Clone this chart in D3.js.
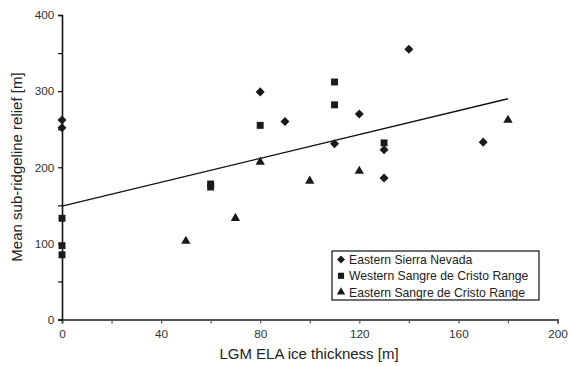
<!DOCTYPE html>
<html>
<head>
<meta charset="utf-8">
<script src="https://cdn.jsdelivr.net/npm/d3@7"></script>
<style>
  body { margin: 0; background: #fff; }
  svg { font-family: "Liberation Sans", Arial, sans-serif; }
</style>
</head>
<body>
<svg id="chart" width="568" height="366"></svg>
<script>
// data
const sierraNevada = [
  [0, 262], [0, 252], [80, 299], [90, 260], [110, 231], [120, 270],
  [130, 223], [130, 186], [140, 355], [170, 233]
];
const westernSangre = [
  [0, 133], [0, 97], [0, 85], [60, 178], [60, 174], [80, 255],
  [110, 312], [110, 282], [130, 232]
];
const easternSangre = [
  [50, 103], [70, 133], [80, 207], [100, 182], [120, 195], [180, 262]
];
const fitLine = [[0, 149], [180, 290]];
const xTicks = [0, 40, 80, 120, 160, 200];
const yTicks = [0, 100, 200, 300, 400];
const legendNames = ["Eastern Sierra Nevada", "Western Sangre de Cristo Range", "Eastern Sangre de Cristo Range"];

const svg = d3.select("#chart");
const x = d3.scaleLinear().domain([0, 200]).range([62, 557.5]);
const y = d3.scaleLinear().domain([0, 400]).range([319.5, 15]);

// minor ticks every 20 / 50, labels only on the major ones
const xAxisG = svg.append("g").attr("transform", "translate(0,319.5)")
  .call(d3.axisBottom(x).tickValues(d3.range(0, 201, 20)).tickSize(4).tickFormat(d => xTicks.includes(d) ? d : ""));
xAxisG.select(".domain").attr("stroke", "#555").attr("stroke-width", 2);
xAxisG.selectAll(".tick line").attr("stroke", "#555").attr("stroke-width", 1.2);
xAxisG.selectAll(".tick text").attr("font-size", 11.8).attr("fill", "#333").attr("dy", "0.95em");

const yAxisG = svg.append("g").attr("transform", "translate(62,0)")
  .call(d3.axisLeft(y).tickValues(d3.range(0, 401, 50)).tickSize(4).tickFormat(d => yTicks.includes(d) ? d : ""));
yAxisG.select(".domain").attr("stroke", "#111").attr("stroke-width", 1.6);
yAxisG.selectAll(".tick line").attr("stroke", "#111").attr("stroke-width", 1.2);
yAxisG.selectAll(".tick text").attr("font-size", 11.8).attr("fill", "#333").attr("dx", "-0.05em");

// regression line
svg.append("path")
  .datum(fitLine)
  .attr("fill", "none")
  .attr("stroke", "#111")
  .attr("stroke-width", 1.4)
  .attr("d", d3.line().x(d => x(d[0])).y(d => y(d[1])));

const diamond = d3.symbol().type(d3.symbolDiamond2).size(52);
const square = d3.symbol().type(d3.symbolSquare).size(48);
const triangle = d3.symbol().type(d3.symbolTriangle).size(38);

function drawPoints(data, sym) {
  svg.append("g").selectAll("path")
    .data(data)
    .join("path")
    .attr("transform", d => `translate(${x(d[0])},${y(d[1])})`)
    .attr("d", sym)
    .attr("fill", "#1a1a1a");
}
drawPoints(sierraNevada, diamond);
drawPoints(westernSangre, square);
drawPoints(easternSangre, triangle);

// legend
const legend = svg.append("g").attr("transform", "translate(332,251)");
legend.append("rect")
  .attr("width", 207).attr("height", 49)
  .attr("fill", "#fff").attr("stroke", "#111").attr("stroke-width", 1.2);
const legendSyms = [
  d3.symbol().type(d3.symbolDiamond2).size(40),
  d3.symbol().type(d3.symbolSquare).size(38),
  d3.symbol().type(d3.symbolTriangle).size(30)
];
legendNames.forEach((name, i) => {
  const row = legend.append("g").attr("transform", `translate(0,${8.5 + i * 16.3})`);
  row.append("path").attr("transform", "translate(9,0)").attr("d", legendSyms[i]).attr("fill", "#1a1a1a");
  row.append("text").attr("x", 17).attr("dy", "0.36em")
    .attr("font-size", 12.2).attr("fill", "#222").text(name);
});

// axis titles
svg.append("text")
  .attr("x", 309).attr("y", 359)
  .attr("text-anchor", "middle")
  .attr("font-size", 15).attr("fill", "#222")
  .text("LGM ELA ice thickness [m]");
svg.append("text")
  .attr("transform", "translate(22,167) rotate(-90)")
  .attr("text-anchor", "middle")
  .attr("font-size", 15).attr("fill", "#222")
  .text("Mean sub-ridgeline relief [m]");
</script>
</body>
</html>
